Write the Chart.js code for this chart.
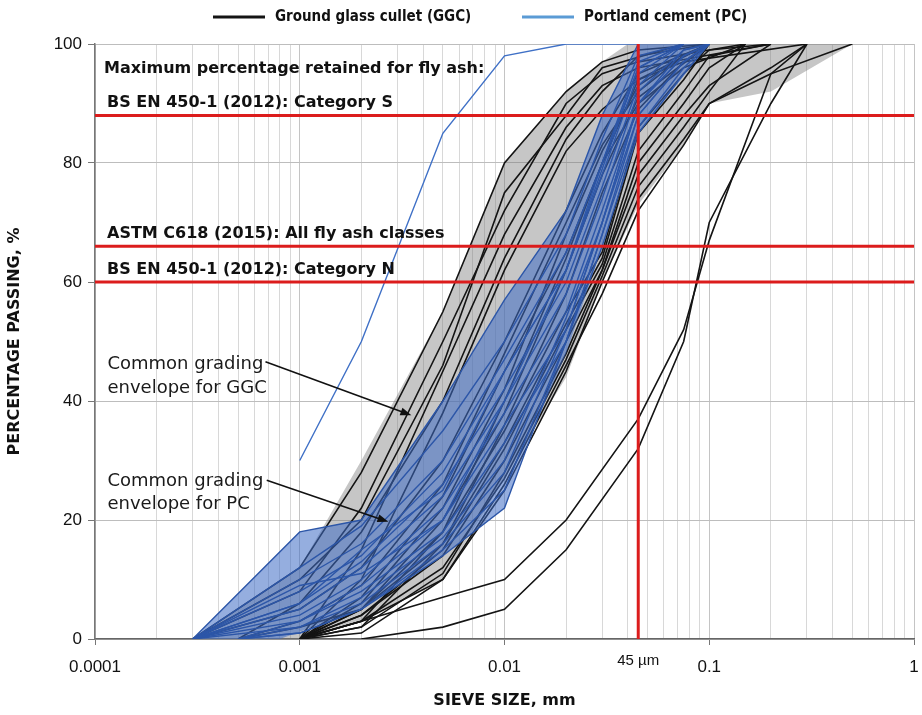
<!DOCTYPE html>
<html>
<head>
<meta charset="utf-8">
<script src="https://cdn.jsdelivr.net/npm/chart.js@4.4.1/dist/chart.umd.min.js"></script>
<style>
html,body{margin:0;padding:0;background:#fff;}
#wrap{width:922px;height:715px;position:relative;}
</style>
</head>
<body>
<div id="wrap"><canvas id="c" width="922" height="715"></canvas></div>
<script>
// ---------------- DATA ----------------
const n = null;
// sieve sizes (mm) shared by the individual grading curves
const SIZES = [0.0003, 0.0005, 0.001, 0.002, 0.005, 0.01, 0.02, 0.03, 0.045, 0.075, 0.1, 0.15, 0.2, 0.3, 0.5];

// Ground glass cullet (GGC) curves, % passing at SIZES
const GGC_L1 = [0, n, 12, 28, 55, 80, 92, 97, 99, n, 100];
const GGC_L2 = [0, n, 8, 22, 50, 72, 90, 95, 97, n, n, 100];
const GGC_L3 = [n, n, 0, 15, 45, 68, 86, 93, 96, n, n, n, 100];
const GGC_L4 = [n, 0, 6, 18, 40, 64, 84, 92, 98, n, 100];
const GGC_L5 = [n, n, 0, 10, 38, 62, 82, 89, 94, 97, n, n, n, 100];
const GGC_L6 = [0, n, 10, 20, 46, 75, 88, 96, n, 100];
const GGC_M1 = [n, n, 0, 6, 22, 42, 68, 82, 93, 98, 100];
const GGC_M2 = [n, n, 0, 5, 20, 38, 62, 78, 91, n, 100];
const GGC_M3 = [0, n, 5, 12, 30, 50, 72, 85, 95, n, 100];
const GGC_M4 = [n, n, 0, 7, 24, 45, 65, 80, 90, 96, n, 100];
const GGC_M5 = [n, n, 0, 2, 16, 36, 58, 75, 89, 97, 100];
const GGC_M6 = [n, 0, 3, 9, 26, 48, 70, 83, 92, 98, 100];
const GGC_M7 = [n, n, 0, 3, 18, 40, 64, 80, 94, n, 100];
const GGC_R1 = [n, n, 0, 3, 10, 25, 45, 60, 74, 84, 90, n, 96, 100];
const GGC_R2 = [n, n, 0, 3, 12, 27, 47, 61, 76, 86, 92, 100];
const GGC_R3 = [n, n, 0, 2, 11, 28, 48, 62, 78, 88, 93, n, 100];
const GGC_R4 = [n, n, 0, 4, 14, 30, 50, 62, 80, 90, 96, 100];
const GGC_R5 = [n, n, 0, 4, 15, 32, 52, 63, 82, 92, 98, n, 100];
const GGC_R6 = [n, 0, 2, 5, 16, 33, 53, 64, 85, 94, 100];
const GGC_R7 = [n, n, 0, 5, 18, 35, 55, 65, 86, 95, 99, n, 100];
const GGC_R8 = [n, n, 0, 1, 10, 26, 46, 58, 72, 83, 90, n, 95, 100];
const GGC_A  = [n, n, n, 0, 2, 5, 15, n, 32, 50, 70, n, 90, 100];
const GGC_B  = [n, n, 0, 3, 7, 10, 20, n, 37, 52, 67, n, 95, n, 100];

// Portland cement (PC) curves, % passing at SIZES
const PC_1  = [0, n, 18, 20, 40, 57, 72, 88, 100];
const PC_2  = [0, n, 12, 19, 35, 50, 68, 84, 98, 100];
const PC_3  = [0, n, 10, 16, 30, 47, 65, 80, 96, 100];
const PC_4  = [0, n, 8, 14, 28, 45, 62, 78, 95, 100];
const PC_5  = [0, n, 6, 13, 26, 42, 60, 76, 93, 100];
const PC_6  = [0, n, 5, 12, 24, 40, 58, 74, 92, 99, 100];
const PC_7  = [0, n, 4, 10, 22, 38, 55, 72, 90, 98, 100];
const PC_8  = [0, n, 3, 9, 20, 36, 52, 70, 90, 99, 100];
const PC_9  = [n, 0, 3, 8, 18, 33, 50, 68, 88, 97, 100];
const PC_10 = [n, 0, 2, 7, 17, 30, 54, 70, 90, 98, 100];
const PC_11 = [0, n, 2, 6, 16, 28, 52, 70, 88, 97, 100];
const PC_12 = [n, 0, 1, 5, 15, 25, 50, 68, 86, 96, 100];
const PC_13 = [n, 0, 1, 5, 14, 22, 50, 66, 85, 95, 100];
const PC_14 = [0, n, 6, 15, 25, 45, 62, 80, 97, 100];
const PC_15 = [0, n, 9, 11, 20, 40, 62, 79, 96, 100];

// very fine Portland cement
const PC_FINE_SIZES = [0.001, 0.002, 0.005, 0.01, 0.02, 0.045];
const PC_FINE = [30, 50, 85, 98, 100, 100];

// common grading envelopes
const GGC_ENV_UPPER_SIZES = [0.0003, 0.001, 0.002, 0.005, 0.01, 0.02, 0.03, 0.04, 0.5];
const GGC_ENV_UPPER = [0, 12, 30, 55, 80, 92, 97, 100, 100];
const GGC_ENV_LOWER_SIZES = [0.0003, 0.001, 0.002, 0.005, 0.02, 0.03, 0.045, 0.075, 0.1, 0.2, 0.5];
const GGC_ENV_LOWER = [0, 0, 3, 10, 44, 60, 73, 83, 90, 92, 100];
const PC_ENV_UPPER_SIZES = [0.0003, 0.001, 0.002, 0.005, 0.01, 0.02, 0.03, 0.045, 0.1];
const PC_ENV_UPPER = [0, 18, 20, 40, 57, 72, 88, 100, 100];
const PC_ENV_LOWER_SIZES = [0.0003, 0.0008, 0.002, 0.005, 0.01, 0.013, 0.015, 0.02, 0.03, 0.045, 0.1];
const PC_ENV_LOWER = [0, 0, 5, 14, 22, 33, 38, 48, 66, 85, 100];

// limits
const LIMIT_PASSING = [88, 66, 60];
const LIMIT_LABELS = ['BS EN 450-1 (2012): Category S', 'ASTM C618 (2015): All fly ash classes', 'BS EN 450-1 (2012): Category N'];
const LIMIT_TITLE = 'Maximum percentage retained for fly ash:';
const SIEVE_45 = 0.045;
const SIEVE_45_LABEL = '45 µm';

// axis ticks
const X_DECADES = [0.0001, 0.001, 0.01, 0.1, 1];
const X_TICK_LABELS = ['0.0001', '0.001', '0.01', '0.1', '1'];
const Y_TICKS = [0, 20, 40, 60, 80, 100];

const LEGEND_LABELS = ['Ground glass cullet (GGC)', 'Portland cement (PC)'];
const NOTE_GGC = ['Common grading', 'envelope for GGC'];
const NOTE_PC = ['Common grading', 'envelope for PC'];

// ---------------- STYLE / LAYOUT ----------------
const F_TICK = "'Liberation Sans', Arial, sans-serif";
const F_BOLD = "'DejaVu Sans', sans-serif";
const F_COND = "'DejaVu Sans Condensed', 'DejaVu Sans', sans-serif";
const C_GGC = '#141414', C_PC = '#2c56a8', C_PC_FINE = '#3f70c6', C_RED = '#dc1c1c', C_LEG_PC = '#5b9bd5';
// annotation anchors in data coordinates (x: mm, y: %)
const NOTE_LAYOUT = {
  ggcText: {x: 0.000115, y: [45.3, 41.4]},
  ggcArrow: {from: {x: 0.00068, y: 46.6}, to: {x: 0.00351, y: 37.6}},
  pcText: {x: 0.000115, y: [25.7, 21.8]},
  pcArrow: {from: {x: 0.00069, y: 26.7}, to: {x: 0.00271, y: 19.7}}
};

// ---------------- BUILD ----------------
function pts(sizes, vals) {
  const out = [];
  sizes.forEach((s, i) => { const v = vals[i]; if (v !== null && v !== undefined) out.push({x: s, y: v}); });
  return out;
}
const GRID_VALUES = [];
for (let k = 0; k < X_DECADES.length - 1; k++) for (let m = 1; m <= 9; m++) GRID_VALUES.push(m * X_DECADES[k]);
GRID_VALUES.push(X_DECADES[X_DECADES.length - 1]);
function decadeIndex(v) { return X_DECADES.findIndex(d => Math.abs(v / d - 1) < 1e-6); }

const base = {pointRadius: 0, pointHoverRadius: 0, tension: 0, fill: false};
const datasets = [];
// GGC envelope
datasets.push({...base, label: 'ggcEnvU', data: pts(GGC_ENV_UPPER_SIZES, GGC_ENV_UPPER), borderWidth: 0, borderColor: 'rgba(0,0,0,0)', backgroundColor: 'rgba(120,120,120,0.42)', fill: '+1', order: 100});
datasets.push({...base, label: 'ggcEnvL', data: pts(GGC_ENV_LOWER_SIZES, GGC_ENV_LOWER), borderWidth: 0, borderColor: 'rgba(0,0,0,0)', order: 100});
// GGC curves
[GGC_L1, GGC_L2, GGC_L3, GGC_L4, GGC_L5, GGC_L6, GGC_M1, GGC_M2, GGC_M3, GGC_M4, GGC_M5, GGC_M6, GGC_M7,
 GGC_R1, GGC_R2, GGC_R3, GGC_R4, GGC_R5, GGC_R6, GGC_R7, GGC_R8, GGC_A, GGC_B].forEach((v, i) => {
  datasets.push({...base, label: 'GGC' + i, data: pts(SIZES, v), borderColor: C_GGC, borderWidth: 1.6, order: 60});
});
// PC envelope
datasets.push({...base, label: 'pcEnvU', data: pts(PC_ENV_UPPER_SIZES, PC_ENV_UPPER), borderWidth: 0, borderColor: 'rgba(0,0,0,0)', backgroundColor: 'rgba(62,108,196,0.55)', fill: '+1', order: 50});
datasets.push({...base, label: 'pcEnvL', data: pts(PC_ENV_LOWER_SIZES, PC_ENV_LOWER), borderWidth: 0, borderColor: 'rgba(0,0,0,0)', order: 50});
// PC curves
[PC_1, PC_2, PC_3, PC_4, PC_5, PC_6, PC_7, PC_8, PC_9, PC_10, PC_11, PC_12, PC_13, PC_14, PC_15].forEach((v, i) => {
  datasets.push({...base, label: 'PC' + i, data: pts(SIZES, v), borderColor: C_PC, borderWidth: 1.4, order: 40});
});
datasets.push({...base, label: 'PCfine', data: pts(PC_FINE_SIZES, PC_FINE), borderColor: C_PC_FINE, borderWidth: 1.4, order: 30});
// limit lines
LIMIT_PASSING.forEach((p, i) => {
  datasets.push({...base, label: 'lim' + i, data: [{x: X_DECADES[0], y: p}, {x: X_DECADES[X_DECADES.length - 1], y: p}], borderColor: C_RED, borderWidth: 3, order: 10});
});
datasets.push({...base, label: 'sieve45', data: [{x: SIEVE_45, y: Y_TICKS[0]}, {x: SIEVE_45, y: Y_TICKS[Y_TICKS.length - 1]}], borderColor: C_RED, borderWidth: 3, order: 10});

function arrow(ctx, x1, y1, x2, y2) {
  const ang = Math.atan2(y2 - y1, x2 - x1), L = 11, W = 4;
  ctx.beginPath(); ctx.moveTo(x1, y1); ctx.lineTo(x2 - Math.cos(ang) * L * 0.8, y2 - Math.sin(ang) * L * 0.8); ctx.stroke();
  ctx.beginPath();
  ctx.moveTo(x2, y2);
  ctx.lineTo(x2 - L * Math.cos(ang) + W * Math.sin(ang), y2 - L * Math.sin(ang) - W * Math.cos(ang));
  ctx.lineTo(x2 - L * Math.cos(ang) - W * Math.sin(ang), y2 - L * Math.sin(ang) + W * Math.cos(ang));
  ctx.closePath(); ctx.fill();
}

const overlay = {
  id: 'overlay',
  afterDatasetsDraw(chart) {
    const {ctx, chartArea: a, scales: {x, y}} = chart;
    ctx.save();
    ctx.fillStyle = '#111';
    ctx.textAlign = 'left';
    ctx.textBaseline = 'alphabetic';
    ctx.font = 'bold 16px ' + F_BOLD;
    ctx.fillText(LIMIT_TITLE, a.left + 9, y.getPixelForValue(LIMIT_PASSING[0]) - 42);
    LIMIT_LABELS.forEach((t, i) => ctx.fillText(t, a.left + 12, y.getPixelForValue(LIMIT_PASSING[i]) - 8.5));
    // notes
    ctx.font = '18px ' + F_BOLD;
    ctx.fillStyle = '#1a1a1a';
    NOTE_GGC.forEach((t, i) => ctx.fillText(t, x.getPixelForValue(NOTE_LAYOUT.ggcText.x), y.getPixelForValue(NOTE_LAYOUT.ggcText.y[i])));
    NOTE_PC.forEach((t, i) => ctx.fillText(t, x.getPixelForValue(NOTE_LAYOUT.pcText.x), y.getPixelForValue(NOTE_LAYOUT.pcText.y[i])));
    ctx.strokeStyle = '#111'; ctx.fillStyle = '#111'; ctx.lineWidth = 1.6;
    for (const k of ['ggcArrow', 'pcArrow']) {
      const A = NOTE_LAYOUT[k];
      arrow(ctx, x.getPixelForValue(A.from.x), y.getPixelForValue(A.from.y), x.getPixelForValue(A.to.x), y.getPixelForValue(A.to.y));
    }
    ctx.restore();
  },
  afterDraw(chart) {
    const {ctx, chartArea: a, scales: {x}} = chart;
    ctx.save();
    // 45 um label
    ctx.fillStyle = '#111';
    ctx.font = '15px ' + F_TICK;
    ctx.textAlign = 'center'; ctx.textBaseline = 'middle';
    ctx.fillText(SIEVE_45_LABEL, x.getPixelForValue(SIEVE_45), a.bottom + 22);
    // legend
    ctx.textAlign = 'left';
    ctx.font = 'bold 15px ' + F_COND;
    const items = [{x0: 213, color: C_GGC}, {x0: 522, color: C_LEG_PC}];
    items.forEach((it, i) => {
      ctx.strokeStyle = it.color; ctx.lineWidth = 3;
      ctx.beginPath(); ctx.moveTo(it.x0, 17); ctx.lineTo(it.x0 + 52, 17); ctx.stroke();
      ctx.fillStyle = '#111';
      ctx.fillText(LEGEND_LABELS[i], it.x0 + 62, 17);
    });
    ctx.restore();
  }
};

new Chart(document.getElementById('c'), {
  type: 'line',
  data: {datasets},
  options: {
    responsive: false,
    animation: false,
    events: [],
    devicePixelRatio: 1,
    layout: {padding: {top: 44, right: 8, bottom: 0, left: 0}},
    plugins: {legend: {display: false}, tooltip: {enabled: false}, filler: {propagate: false}},
    scales: {
      x: {
        type: 'logarithmic', min: X_DECADES[0], max: X_DECADES[X_DECADES.length - 1],
        afterBuildTicks: s => { s.ticks = GRID_VALUES.map(v => ({value: v})); },
        afterFit: s => { s.height = 76; s.paddingLeft = 0; s.paddingRight = 0; },
        ticks: {
          autoSkip: false, maxRotation: 0, padding: 12, color: '#111',
          font: {family: F_TICK, size: 17},
          callback: v => { const k = decadeIndex(v); return k >= 0 ? X_TICK_LABELS[k] : ''; }
        },
        grid: {
          color: c => (c.tick && decadeIndex(c.tick.value) >= 0) ? '#c4c4c4' : '#d8d8d8',
          tickColor: c => (c.tick && decadeIndex(c.tick.value) >= 0) ? '#777' : 'rgba(0,0,0,0)',
          tickLength: 6, lineWidth: 1
        },
        border: {color: '#666', width: 1.5},
        title: {display: true, text: 'SIEVE SIZE, mm', color: '#111', font: {family: F_BOLD, size: 16, weight: 'bold'}, padding: {top: 0, bottom: 5}}
      },
      y: {
        type: 'linear', min: Y_TICKS[0], max: Y_TICKS[Y_TICKS.length - 1],
        afterBuildTicks: s => { s.ticks = Y_TICKS.map(v => ({value: v})); },
        afterFit: s => { s.width = 95; s.paddingTop = 0; s.paddingBottom = 0; },
        ticks: {color: '#111', padding: 6, font: {family: F_TICK, size: 17}},
        grid: {color: '#bdbdbd', lineWidth: 1, tickLength: 7, tickColor: '#777'},
        border: {color: '#777', width: 1.5},
        title: {display: true, text: 'PERCENTAGE PASSING, %', color: '#111', font: {family: F_BOLD, size: 16, weight: 'bold'}, padding: {top: 5, bottom: 0}}
      }
    }
  },
  plugins: [overlay]
});
</script>
</body>
</html>
